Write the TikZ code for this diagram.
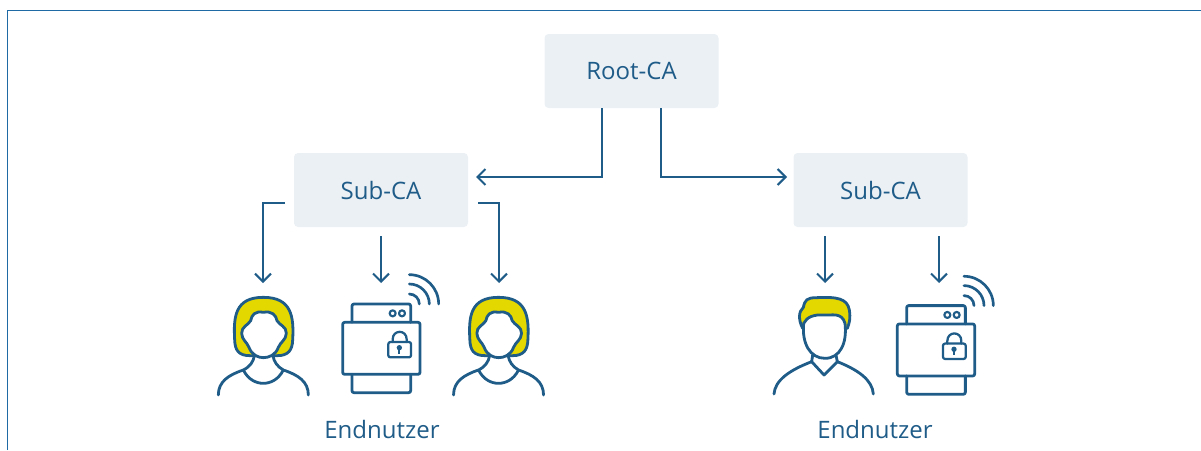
\documentclass[tikz,border=0pt]{standalone}
\usepackage{fontspec}
\setmainfont{Open Sans}
\usetikzlibrary{arrows.meta}
\definecolor{ink}{HTML}{1F5C88}
\definecolor{framec}{HTML}{1F6AA5}
\definecolor{boxc}{HTML}{EBF0F5}
\definecolor{hair}{HTML}{E3D800}
\tikzset{
  cabox/.style={fill=boxc,rounded corners=3pt,minimum width=130.5pt,minimum height=55.5pt,inner sep=0pt,text=ink,font=\fontsize{18}{20}\selectfont},
  lbl/.style={text=ink,inner sep=0pt,font=\fontsize{18}{20}\selectfont},
  conn/.style={draw=ink,line width=1.5pt,-{Straight Barb[length=6pt,width=12pt,line width=1.5pt]}},
  icon/.style={draw=ink,line width=2.1pt,line join=round,line cap=round},
  zoomed/.style={x=0.25pt,y=-0.25pt},
  pics/woman/.style={code={
    \path[icon,fill=hair] (150,497) .. controls (115,497) and (105,480) .. (104,450)
      .. controls (100,380) and (105,322) .. (190,322) .. controls (275,322) and (282,380) .. (278,450)
      .. controls (277,480) and (265,497) .. (232,497) -- cycle;
    \path[icon,fill=white] (190,367) .. controls (165,362) and (155,375) .. (152,392)
      .. controls (145,405) and (124,410) .. (125,430) .. controls (126,450) and (140,455) .. (147,472)
      .. controls (155,495) and (175,503) .. (190,503) .. controls (207,503) and (227,495) .. (235,472)
      .. controls (242,455) and (258,450) .. (259,430) .. controls (260,410) and (238,405) .. (231,392)
      .. controls (228,375) and (215,362) .. (190,367) -- cycle;
    \path[icon] (55,615) .. controls (55,575) and (85,555) .. (130,540) .. controls (150,530) and (160,515) .. (163,498);
    \path[icon] (325,615) .. controls (325,575) and (295,555) .. (250,540) .. controls (232,530) and (222,515) .. (219,498);
    \path[icon] (130,540) .. controls (145,570) and (170,580) .. (190,580) .. controls (210,580) and (235,570) .. (250,540);
  }},
  pics/manicon/.style={code={
    \path[icon,fill=hair] (128,325) .. controls (115,300) and (115,275) .. (130,262) .. controls (135,240) and (140,233) .. (170,233)
      .. controls (230,230) and (262,235) .. (268,270) .. controls (272,295) and (268,310) .. (262,325) -- cycle;
    \path[icon,fill=white] (131,310) .. controls (140,290) and (165,283) .. (190,285) .. controls (215,287) and (245,275) .. (255,310)
      .. controls (262,370) and (240,415) .. (195,415) .. controls (150,415) and (125,370) .. (131,310) -- cycle;
    \path[icon] (42,522) .. controls (45,480) and (90,450) .. (155,425) -- (158,405);
    \path[icon] (340,522) .. controls (337,480) and (295,450) .. (232,425) -- (228,405);
    \path[icon] (155,425) -- (192,465) -- (232,425);
  }},
  pics/device/.style={code={
    \path[icon,rounded corners=1.5pt] (456,397) -- (456,342) -- (632,342) -- (632,397);
    \path[icon,rounded corners=1.5pt] (428,397) rectangle (660,553);
    \path[icon,rounded corners=1.5pt] (456,553) -- (456,608) -- (632,608) -- (632,553);
    \path[icon,line width=1.6pt] (578,370) circle (9) (606,370) circle (9);
    \path[icon,line width=1.7pt,rounded corners=1.5pt] (565,456) rectangle (633,502);
    \path[icon,line width=1.7pt] (578,456) -- (578,448) .. controls (578,418) and (620,418) .. (620,448) -- (620,456);
    \path[fill=ink] (598,473) circle (8);
    \path[draw=ink,line width=1.6pt] (598,473) -- (598,491);
    \foreach \r in {30,60,88}{
      \path[icon,line width=2pt] (628,{342-\r}) .. controls ({628+.55*\r},{342-\r}) and ({628+\r},{342-.55*\r}) .. ({628+\r},342);
    }
  }}
}
\begin{document}
\begin{tikzpicture}[x=0.75pt,y=-0.75pt]
\useasboundingbox (0,0) rectangle (1201,450);
\draw[framec,line width=1.1pt] (7.5,450) -- (7.5,10.5) -- (1201,10.5);

\node[cabox] (root) at (631.5,71) {Root-CA};
\node[cabox] (subl) at (381,190) {Sub-CA};
\node[cabox] (subr) at (880.5,190) {Sub-CA};

\node[lbl] (endl) at (382,429) {Endnutzer};
\node[lbl] (endr) at (875,429) {Endnutzer};

\coordinate (rl) at (602,108);
\coordinate (rr) at (661,108);
\coordinate (tl) at (476,177);
\coordinate (tr) at (787,177);
\draw[conn] (rl) |- (tl);
\draw[conn] (rr) |- (tr);

\coordinate (a1) at (285,203); \coordinate (b1) at (263,283);
\coordinate (a2) at (381,236); \coordinate (b2) at (381,283);
\coordinate (a3) at (478,203); \coordinate (b3) at (499,283);
\coordinate (a4) at (825,236); \coordinate (b4) at (825,283);
\coordinate (a5) at (939,236); \coordinate (b5) at (939,283);
\draw[conn] (a1) -| (b1);
\draw[conn] (a2) -- (b2);
\draw[conn] (a3) -| (b3);
\draw[conn] (a4) -- (b4);
\draw[conn] (a5) -- (b5);

\pic[zoomed,shift={(150pt,-142.5pt)}] {woman};
\pic[zoomed,shift={(326.4pt,-142.5pt)}] {woman};
\pic[zoomed,shift={(150pt,-142.5pt)}] {device};
\pic[zoomed,shift={(566pt,-143.7pt)}] {device};
\pic[zoomed,shift={(570pt,-165pt)}] {manicon};
\end{tikzpicture}
\end{document}
